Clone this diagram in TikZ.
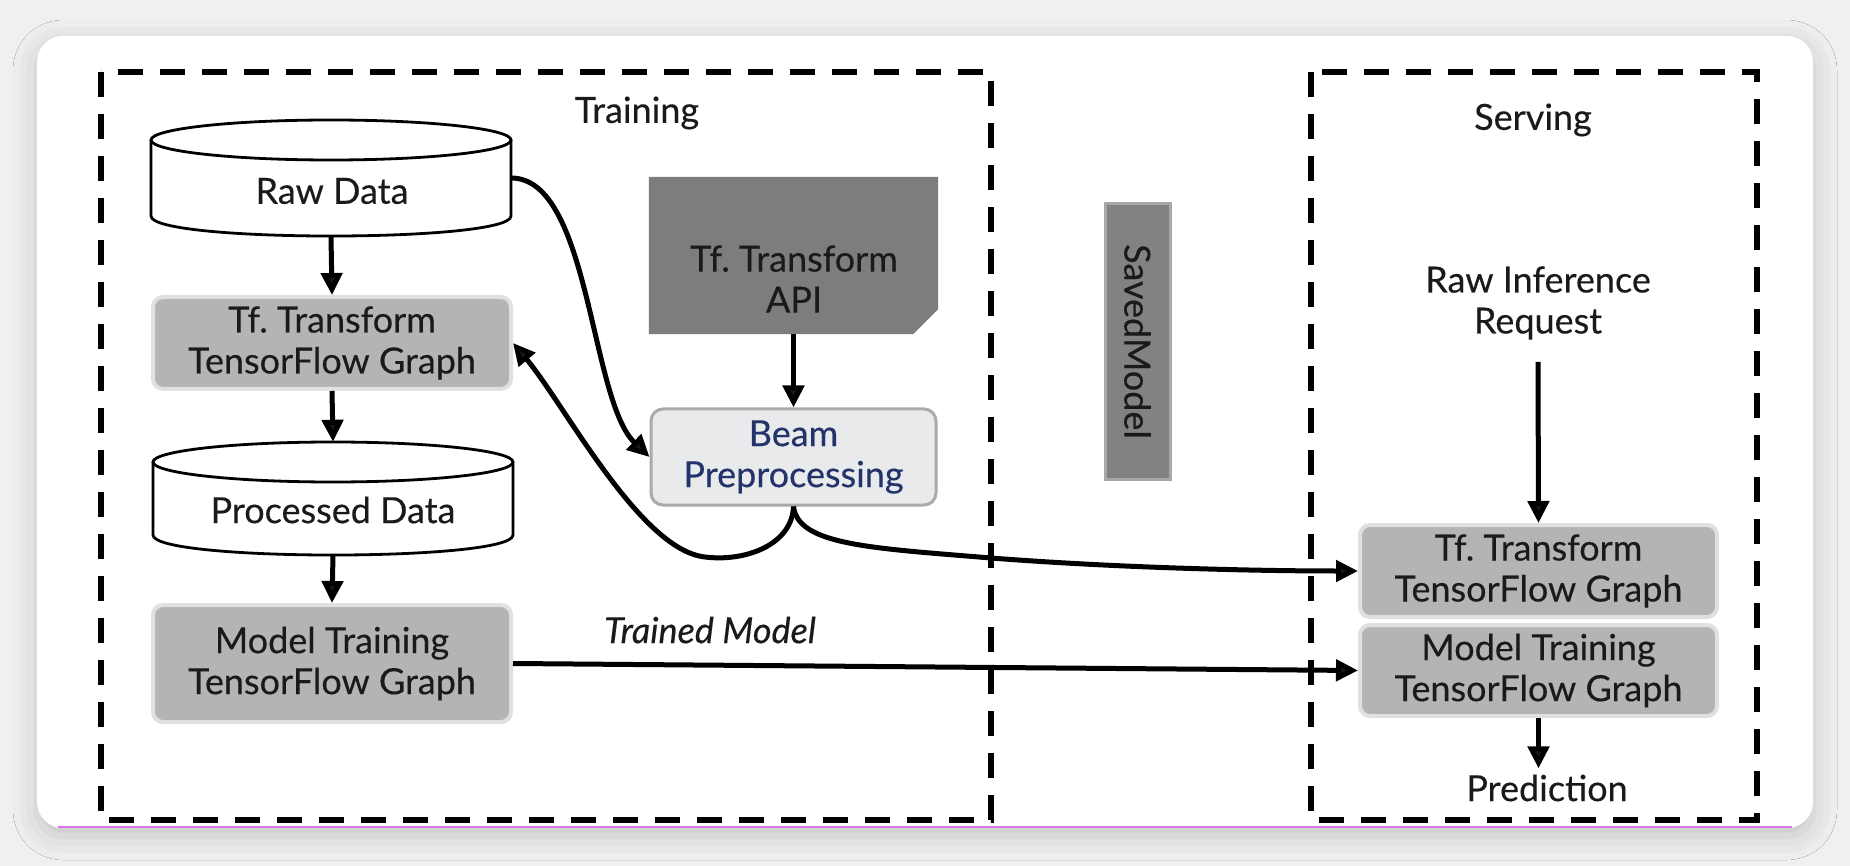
\documentclass[tikz,border=0pt]{standalone}
\usepackage{fontspec}
\setmainfont{Lato}[FakeBold=0.3]
\usetikzlibrary{arrows.meta,shadows.blur}
\frenchspacing
\definecolor{bgc}{RGB}{240,240,240}
\definecolor{gbox}{RGB}{180,180,180}
\definecolor{glow}{RGB}{224,224,224}
\definecolor{apifill}{RGB}{125,125,125}
\definecolor{beamfill}{RGB}{233,234,236}
\definecolor{beamdraw}{RGB}{170,170,170}
\definecolor{beamtext}{RGB}{36,52,107}
\definecolor{savedfill}{RGB}{130,130,130}
\definecolor{saveddraw}{RGB}{168,168,168}
\definecolor{textc}{RGB}{26,26,26}
\definecolor{pinkline}{RGB}{215,120,230}
\begin{document}
\begin{tikzpicture}[x=1pt,y=-1pt]
\tikzset{
  txt/.style={font=\fontsize{36}{41}\selectfont, text=textc, align=center, inner sep=0pt},
  gboxs/.style={txt, fill=gbox, rounded corners=10pt, draw=glow, line width=4pt},
  conn/.style={line width=5pt, -{Triangle[length=22pt,width=21pt]}},
  dashbox/.style={draw, line width=6.5pt, dash pattern=on 25pt off 17pt},
  cylst/.style={draw, line width=2.8pt},
}
\useasboundingbox (0,0) rectangle (1850,866);
\fill[bgc] (0,0) rectangle (1850,866);
% card
\fill[white, rounded corners=26pt, blur shadow={shadow xshift=0pt, shadow yshift=-8pt, shadow blur radius=24pt, shadow opacity=18}] (37,36) rectangle (1813,828);
\draw[pinkline, line width=1.8pt] (58,827) -- (1792,827);

% group boxes
\draw[dashbox] (101,72) rectangle (991,820);
\draw[dashbox] (1311,72) rectangle (1757,820);
\node[txt] (training) at (637,113) {Training};
\node[txt] (serving) at (1533,120) {Serving};

% Raw Data cylinder
\draw[cylst] (151,140) -- (151,216) .. controls (151,242.7) and (511,242.7) .. (511,216) -- (511,140);
\draw[cylst] (331,140) ellipse [x radius=180, y radius=20];
\node[inner sep=0pt, minimum width=360pt, minimum height=116pt] (rd) at (331,178) {};
\node[txt] (rdt) at (332,191) {Raw Data};

% Processed Data cylinder
\draw[cylst] (153,462) -- (153,535) .. controls (153,561.7) and (513,561.7) .. (513,535) -- (513,462);
\draw[cylst] (333,462) ellipse [x radius=180, y radius=20];
\node[inner sep=0pt, minimum width=360pt, minimum height=113pt] (pd) at (333,498.5) {};
\node[txt] (pdt) at (333,510) {Processed Data};

% left boxes
\node[gboxs, minimum width=358pt, minimum height=92pt] (tfL) at (332,343) {Tf. Transform\\TensorFlow Graph};
\node[gboxs, minimum width=358pt, minimum height=117pt] (mtL) at (332,663.5) {Model Training\\TensorFlow Graph};

% API box
\node[inner sep=0pt, minimum width=289pt, minimum height=157pt] (api) at (793.5,255.5) {};
\fill[apifill] (api.north west) -- (api.north east) -- ([yshift=25pt]api.south east) -- ([xshift=-25pt]api.south east) -- (api.south west) -- cycle;
\node[txt] (apit) at (794,279) {Tf. Transform\\API};

% Beam
\node[txt, fill=beamfill, draw=beamdraw, line width=3pt, rounded corners=12pt, text=beamtext, minimum width=285pt, minimum height=96pt] (beam) at (793.5,457) {Beam\\Preprocessing};

% SavedModel
\node[txt, fill=savedfill, draw=saveddraw, line width=3pt, rotate=-90, minimum width=275pt, minimum height=65pt] (saved) at (1137.5,341.5) {SavedModel};

% Serving side
\node[txt] (rir) at (1538,303) {Raw Inference\\Request};
\node[gboxs, minimum width=357pt, minimum height=92pt] (tfS) at (1538.5,571) {Tf. Transform\\TensorFlow Graph};
\node[gboxs, minimum width=357pt, minimum height=91pt] (mtS) at (1538.5,670.5) {Model Training\\TensorFlow Graph};
\node[txt] (pred) at (1547,788) {Prediction};

\node[txt, font=\fontsize{36}{41}\selectfont\itshape] (tm) at (710,630) {Trained Model};

% connectors
\draw[conn] (rd.south) -- (tfL.north);
\draw[conn] (tfL.south) -- (pd.north);
\draw[conn] (pd.south) -- (mtL.north);
\draw[conn] (api.south) -- (beam.north);
\draw[conn] ([yshift=-22pt]rir.south) -- (tfS.north);
\draw[conn] (mtS.south) -- ([yshift=6pt]mtS.south |- pred.north);
\draw[conn] (mtL.east) -- (mtS.west);
\draw[conn] (rd.east) .. controls (590,178) and (590,400) .. (beam.west);
\coordinate (dip) at (705,557);
\draw[conn] (beam.south) .. controls (792,545) and (745,562) .. (dip) .. controls (640,550) and (565,405) .. (tfL.east);
\coordinate (cross) at (991,558);
\draw[conn] (beam.south) .. controls (798,545) and (870,548) .. (cross) .. controls (1120,568) and (1260,571) .. (tfS.west);
\end{tikzpicture}
\end{document}
